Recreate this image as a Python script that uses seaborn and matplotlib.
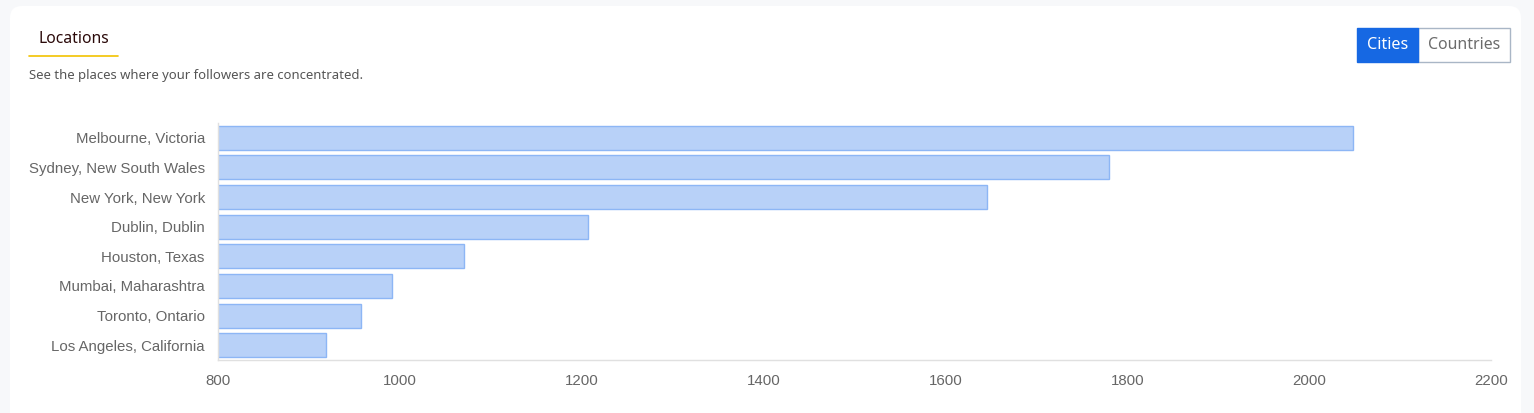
import matplotlib
matplotlib.use("Agg")
import matplotlib.pyplot as plt
from matplotlib.patches import FancyBboxPatch, Rectangle
import seaborn as sns
import pandas as pd

# data
cities = [
    "Melbourne, Victoria",
    "Sydney, New South Wales",
    "New York, New York",
    "Dublin, Dublin",
    "Houston, Texas",
    "Mumbai, Maharashtra",
    "Toronto, Ontario",
    "Los Angeles, California",
]
followers = [2048, 1780, 1646, 1207, 1071, 991, 957, 919]
x_ticks = [800, 1000, 1200, 1400, 1600, 1800, 2000, 2200]

W, H = 1534, 413

sns.set_theme(style="white")
plt.rcParams["font.family"] = ["Liberation Sans", "DejaVu Sans"]

fig = plt.figure(figsize=(W / 100, H / 100), dpi=100)
fig.patch.set_facecolor("#f7f8fa")

# white card (pixel coords, origin bottom-left)
card = FancyBboxPatch((10, -20), 1511, H - 6 + 20,
                      boxstyle="round,pad=0,rounding_size=12",
                      transform=None, facecolor="white",
                      edgecolor="none", zorder=-5)
fig.add_artist(card)

ax = fig.add_axes([218 / W, 1 - 360 / H, (1491 - 218) / W, (360 - 123) / H])
ax.set_facecolor("none")
ax.set_zorder(2)

df = pd.DataFrame({"city": cities, "followers": followers})
sns.barplot(data=df, x="followers", y="city", ax=ax, color="#b8d1f8",
            edgecolor="#8db6f5", linewidth=1, width=0.81, saturation=1)

ax.set_xlim(800, 2200)
ax.set_xticks(x_ticks)
ax.set_xlabel("")
ax.set_ylabel("")
ax.tick_params(axis="both", length=0, labelsize=10.8, colors="#666666")
ax.tick_params(axis="x", pad=10)
ax.tick_params(axis="y", pad=9.5)
for s in ["top", "right"]:
    ax.spines[s].set_visible(False)
for s in ["left", "bottom"]:
    ax.spines[s].set_color("#e0e0e0")
    ax.spines[s].set_linewidth(1)

# header
hdr_font = ["Noto Sans", "DejaVu Sans"]
fig.text(39 / W, 1 - 39 / H, "Locations", fontsize=11.3, color="#2b0a0a",
         va="center", ha="left", family=hdr_font)
fig.add_artist(plt.Line2D([29 / W, 118 / W], [1 - 56 / H, 1 - 56 / H],
                          color="#f2c200", linewidth=1.2))
fig.text(29 / W, 1 - 75.5 / H, "See the places where your followers are concentrated.",
         fontsize=9.45, color="#555555", va="center", ha="left", family=hdr_font)

# toggle buttons
fig.add_artist(Rectangle((1418 / W, 1 - 62 / H), 92 / W, 34 / H,
                         transform=fig.transFigure, facecolor="white",
                         edgecolor="#a9b6c6", linewidth=1))
fig.add_artist(Rectangle((1357 / W, 1 - 62 / H), 61 / W, 34 / H,
                         transform=fig.transFigure, facecolor="#1668e3",
                         edgecolor="#1668e3", linewidth=1))
fig.text(1387.5 / W, 1 - 45 / H, "Cities", fontsize=11.6, color="white",
         ha="center", va="center", family=hdr_font)
fig.text(1464 / W, 1 - 45 / H, "Countries", fontsize=11.4, color="#6b6b6b",
         ha="center", va="center", family=hdr_font)

fig.savefig("out.png", dpi=100, facecolor=fig.get_facecolor())
